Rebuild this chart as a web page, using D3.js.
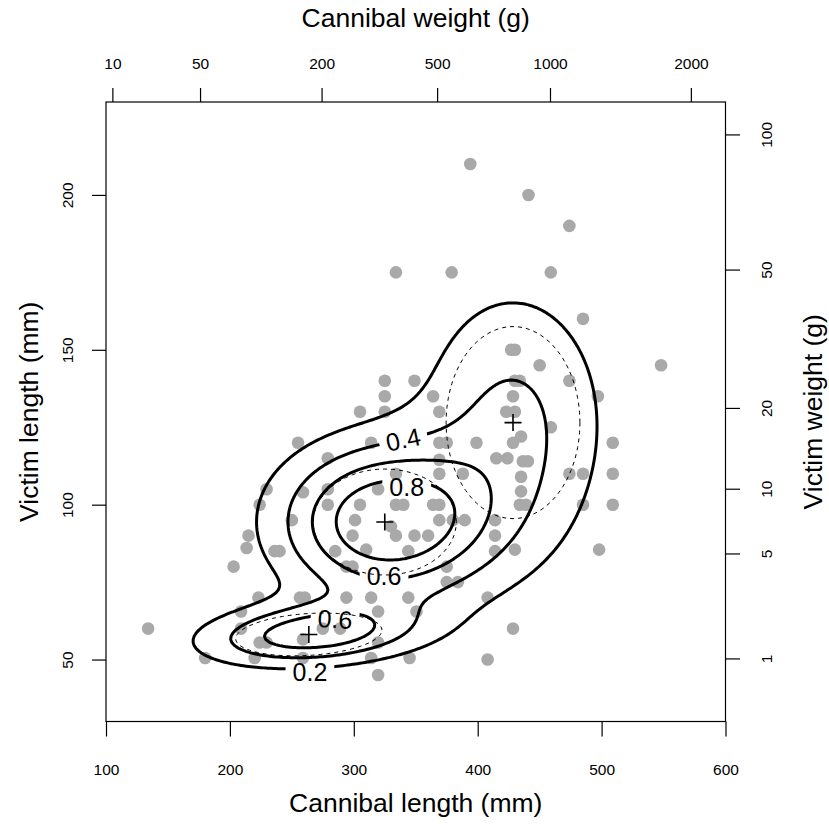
<!DOCTYPE html>
<html>
<head>
<meta charset="utf-8">
<script src="https://cdn.jsdelivr.net/npm/d3@7"></script>
<style>
  body { margin: 0; background: #fff; }
  svg { font-family: "Liberation Sans", Arial, Helvetica, sans-serif; }
</style>
</head>
<body>
<div id="chart"></div>
<script>
// observed pairs, lengths in mm
var cannibalLength = [394, 441, 474, 334, 379, 459, 485, 427, 430, 450, 548, 430, 434, 474, 349, 325,
  325, 364, 428.5, 497, 305, 325, 369, 423, 430, 459, 435, 255, 314, 369, 375, 399, 428.5, 509,
  279, 369, 415, 424, 436.5, 440.5, 334, 369, 388, 435, 474, 485, 509, 229.6, 259, 279, 319.6, 435,
  224, 279, 305, 334, 340, 364, 369, 434, 439, 485, 509, 250, 301, 369, 380, 389.5, 414, 330, 334,
  215, 299, 349, 360, 414, 213.5, 236, 240, 285, 310, 344, 414, 430, 498, 203, 294, 299, 375, 375,
  384, 223, 256.5, 260.5, 294, 314, 344, 408, 209, 319.6, 350.6, 134, 209, 275, 289, 428.5, 224,
  229.6, 259, 319.6, 180, 220, 259, 314, 345, 408, 319.6];
var victimLength = [210, 200, 190, 175, 175, 175, 160, 150, 150, 145, 145, 140, 140, 140, 140, 140,
  135, 135, 135, 135, 130, 130, 130, 130, 130, 125, 122, 120, 120, 120, 120, 120, 120, 120,
  115, 114.5, 115, 115, 114, 114, 110, 110, 110, 109, 110, 110, 110, 105, 104, 105, 105, 104.3,
  100, 100, 100, 100, 100, 100, 100, 100, 100, 100, 100, 95, 95, 95, 95, 95, 95, 93, 90,
  90, 90, 90, 90, 90, 86, 85, 85, 85, 85.5, 85, 85, 85.5, 85.5, 80, 80, 80, 80, 75,
  75, 70, 70, 70, 70, 70, 70, 70, 65.5, 65.5, 65.5, 60, 60, 60, 60, 60, 55.5,
  55.5, 56.5, 55.5, 50.5, 50.5, 50.5, 50.5, 50.5, 50, 45];

// normal mixture fitted to the pairs
var compMeanL = [263.7, 325, 428.5];
var compMeanV = [58.1, 94.4, 126.5];
var compSdL = [59, 57.7, 54];
var compSdV = [6.9, 17.1, 31];
var compRho = [0.2, 0, 0];
var compWeight = [0.139, 0.495, 0.366];
var densityScale = 12500;   // density is shown x 1.25e4

var contourLevels = [0.2, 0.4, 0.6, 0.8];
var labelLevel = [0.2, 0.4, 0.6, 0.6, 0.8];
var labelL = [264.6, 339.9, 284.8, 324.4, 342.7];
var labelV = [46.1, 121.1, 63.1, 77, 105.6];
var labelAngle = [0, -12, 3, 0, 0];

// axis ticks
var xTicks = [100, 200, 300, 400, 500, 600];
var yTicks = [50, 100, 150, 200];
var cannibalWeightTicks = [10, 50, 200, 500, 1000, 2000];
var victimWeightTicks = [1, 5, 10, 20, 50, 100];

// length-weight relation  w = a * L^b  (g, mm)
var lwA = 4.74e-6, lwB = 3.128;
function weightOf(len) { return lwA * Math.pow(len, lwB); }

var width = 829, height = 825;
var svg = d3.select("#chart").append("svg")
  .attr("width", width)
  .attr("height", height);

var x = d3.scaleLinear().domain([100, 600]).range([106, 725.5]);
var y = d3.scaleLinear().domain([30, 230]).range([721.5, 102]);

// weight scales, linear in length
var xw = d3.scalePow().exponent(1 / lwB).domain([weightOf(100), weightOf(600)]).range(x.range());
var yw = d3.scalePow().exponent(1 / lwB).domain([weightOf(30), weightOf(230)]).range(y.range());

// points
svg.append("g").selectAll("circle")
  .data(cannibalLength)
  .enter()
  .append("circle")
  .attr("cx", d => x(d))
  .attr("cy", (d, i) => y(victimLength[i]))
  .attr("r", 6.3)
  .attr("fill", "#a9a9a9");

// mixture density on a grid
function density(L, V) {
  var s = 0;
  for (var k = 0; k < compWeight.length; k++) {
    var a = (L - compMeanL[k]) / compSdL[k];
    var b = (V - compMeanV[k]) / compSdV[k];
    var r = compRho[k];
    var q = (a * a - 2 * r * a * b + b * b) / (1 - r * r);
    s += compWeight[k] * Math.exp(-q / 2) / (2 * Math.PI * compSdL[k] * compSdV[k] * Math.sqrt(1 - r * r));
  }
  return s * densityScale;
}

var nx = 250, ny = 200, dx = 2, dy = 1;
var grid = new Array(nx * ny);
for (var j = 0; j < ny; j++) {
  for (var i = 0; i < nx; i++) {
    grid[j * nx + i] = density(100 + (i + 0.5) * dx, 30 + (j + 0.5) * dy);
  }
}

var contours = d3.contours().size([nx, ny]).thresholds(contourLevels)(grid);
var proj = d3.geoTransform({
  point: function(px, py) { this.stream.point(x(100 + px * dx), y(30 + py * dy)); }
});
var path = d3.geoPath(proj);

// component ellipses (1 sd), dashed
var tSteps = d3.range(0, 121).map(d => d / 120 * 2 * Math.PI);
var ellLine = d3.line().x(d => x(d[0])).y(d => y(d[1]));
compMeanL.forEach(function(mL, k) {
  var pts = tSteps.map(function(t) {
    var r = compRho[k];
    return [mL + compSdL[k] * Math.cos(t),
            compMeanV[k] + compSdV[k] * (r * Math.cos(t) + Math.sqrt(1 - r * r) * Math.sin(t))];
  });
  svg.append("path")
    .attr("d", ellLine(pts))
    .attr("fill", "none")
    .attr("stroke", "black")
    .attr("stroke-width", 1)
    .attr("stroke-dasharray", "4,4");
});

// labels first (to measure), then masks that cut the lines
var defs = svg.append("defs");
var labelG = svg.append("g");
var labels = labelG.selectAll("text")
  .data(labelLevel)
  .enter()
  .append("text")
  .attr("transform", (d, i) => `translate(${x(labelL[i])},${y(labelV[i])}) rotate(${labelAngle[i]})`)
  .attr("text-anchor", "middle")
  .attr("dy", "0.36em")
  .attr("font-size", "25px")
  .attr("fill", "black")
  .text(d => d.toFixed(1));

contourLevels.forEach(function(lev, li) {
  var m = defs.append("mask").attr("id", "gap" + li)
    .attr("maskUnits", "userSpaceOnUse")
    .attr("x", 0).attr("y", 0).attr("width", width).attr("height", height);
  m.append("rect").attr("width", width).attr("height", height).attr("fill", "white");
  labels.each(function(d, i) {
    if (d !== lev) return;
    var w = this.getComputedTextLength() + 14;
    m.append("rect")
      .attr("x", -w / 2).attr("y", -10).attr("width", w).attr("height", 20)
      .attr("transform", `translate(${x(labelL[i])},${y(labelV[i])}) rotate(${labelAngle[i]})`)
      .attr("fill", "black");
  });
});

// contour lines
svg.insert("g", "defs + g").selectAll("path")
  .data(contours)
  .enter()
  .append("path")
  .attr("d", path)
  .attr("fill", "none")
  .attr("stroke", "black")
  .attr("stroke-width", 3)
  .attr("stroke-linejoin", "round")
  .attr("mask", (d, i) => `url(#gap${i})`);

// component means
svg.append("g").selectAll("path")
  .data(compMeanL)
  .enter()
  .append("path")
  .attr("d", "M-8.5,0H8.5M0,-8.5V8.5")
  .attr("transform", (d, i) => `translate(${x(d)},${y(compMeanV[i])})`)
  .attr("stroke", "black")
  .attr("stroke-width", 1.6);

// axes
function styleAxis(g) {
  g.select(".domain").remove();
  g.selectAll("line").attr("stroke", "black").attr("stroke-width", 1.2);
  g.selectAll("text").attr("fill", "black");
  g.attr("font-size", "15.5px").attr("font-family", null);
}

svg.append("g")
  .attr("transform", "translate(0,721.5)")
  .call(d3.axisBottom(x).tickValues(xTicks).tickSize(15).tickPadding(27).tickFormat(d3.format("d")))
  .call(styleAxis);

svg.append("g")
  .attr("transform", "translate(0,102)")
  .call(d3.axisTop(xw).tickValues(cannibalWeightTicks).tickSize(14).tickPadding(18.7).tickFormat(d3.format("d")))
  .call(styleAxis);

svg.append("g")
  .attr("transform", "translate(106,0)")
  .call(d3.axisLeft(y).tickValues(yTicks).tickSize(14).tickFormat(d3.format("d")))
  .call(styleAxis)
  .selectAll("text")
  .attr("x", null).attr("dy", null)
  .attr("text-anchor", "middle")
  .attr("transform", "translate(-33,0) rotate(-90)");

svg.append("g")
  .attr("transform", "translate(725.5,0)")
  .call(d3.axisRight(yw).tickValues(victimWeightTicks).tickSize(14.5).tickFormat(d3.format("d")))
  .call(styleAxis)
  .selectAll("text")
  .attr("x", null).attr("dy", null)
  .attr("text-anchor", "middle")
  .attr("transform", "translate(46.5,0) rotate(-90)");

// box
svg.append("rect")
  .attr("x", 106).attr("y", 102)
  .attr("width", 725.5 - 106).attr("height", 721.5 - 102)
  .attr("fill", "none")
  .attr("stroke", "black")
  .attr("stroke-width", 1.2);

// axis titles
var cx = (106 + 725.5) / 2, cy = (102 + 721.5) / 2;
svg.append("text")
  .attr("x", cx).attr("y", 811.5)
  .attr("text-anchor", "middle").attr("font-size", "26.5px")
  .text("Cannibal length (mm)");
svg.append("text")
  .attr("x", cx).attr("y", 27)
  .attr("text-anchor", "middle").attr("font-size", "26.5px")
  .text("Cannibal weight (g)");
svg.append("text")
  .attr("transform", `translate(37.5,${cy}) rotate(-90)`)
  .attr("text-anchor", "middle").attr("font-size", "26.5px")
  .text("Victim length (mm)");
svg.append("text")
  .attr("transform", `translate(821.5,${cy}) rotate(-90)`)
  .attr("text-anchor", "middle").attr("font-size", "26.5px")
  .text("Victim weight (g)");
</script>
</body>
</html>
